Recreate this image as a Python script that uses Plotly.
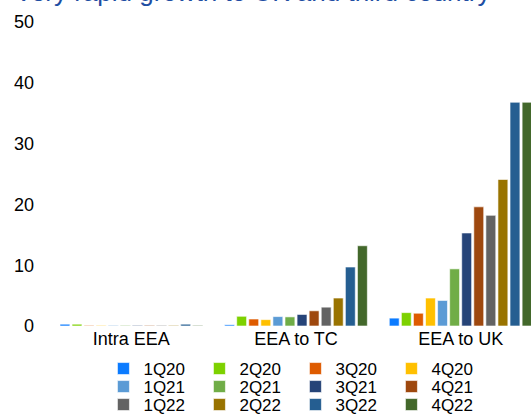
import plotly.graph_objects as go

categories = ["Intra EEA", "EEA to TC", "EEA to UK"]
quarters = ["1Q20", "2Q20", "3Q20", "4Q20",
            "1Q21", "2Q21", "3Q21", "4Q21",
            "1Q22", "2Q22", "3Q22", "4Q22"]
colors = ["#0B7BFF", "#7DD100", "#DE5B00", "#FFC000",
          "#5B9BD5", "#70AD47", "#264478", "#9E480E",
          "#636363", "#997300", "#255E91", "#43682B"]

intra_eea = [0.3, 0.3, 0.1, 0.1, 0.1, 0.1, 0.1, 0.1, 0.1, 0.1, 0.3, 0.1]
eea_to_tc = [0.2, 1.6, 1.15, 1.05, 1.55, 1.5, 1.9, 2.5, 3.1, 4.6, 9.7, 13.2]
eea_to_uk = [1.3, 2.2, 2.1, 4.6, 4.2, 9.4, 15.3, 19.6, 18.2, 24.1, 36.8, 36.8]

title_text = "Very rapid growth to UK and third country"
font_family = "Liberation Sans, Arial, sans-serif"

fig = go.Figure()
legend_names = ["legend", "legend2", "legend3"]
for i, q in enumerate(quarters):
    fig.add_trace(go.Bar(
        name=q,
        x=categories,
        y=[intra_eea[i], eea_to_tc[i], eea_to_uk[i]],
        marker=dict(color=colors[i],
                    line=dict(color="rgba(255,255,255,0.6)", width=1)),
        legend=legend_names[i // 4],
    ))

W, H = 531, 414
ml, mr, mt, mb = 48.5, 0, 22, 88
pw = W - ml - mr
ph = H - mt - mb

def px_to_paper_y(py):
    return (H - mb - py) / ph

def px_to_paper_x(px):
    return (px - ml) / pw

legend_common = dict(
    orientation="h",
    xanchor="left",
    yanchor="middle",
    x=px_to_paper_x(103),
    font=dict(family=font_family, size=17, color="#000000"),
    entrywidth=51,
    entrywidthmode="pixels",
    bgcolor="rgba(0,0,0,0)",
    itemclick=False,
)

fig.update_layout(
    width=W, height=H,
    margin=dict(l=ml, r=mr, t=mt, b=mb, pad=0, autoexpand=False),
    paper_bgcolor="white",
    plot_bgcolor="white",
    barmode="group",
    bargap=0.12,
    bargroupgap=0.18,
    font=dict(family=font_family, color="#000000"),
    showlegend=True,
    hovermode=False,
    legend=dict(legend_common, y=px_to_paper_y(369)),
    legend2=dict(legend_common, y=px_to_paper_y(387)),
    legend3=dict(legend_common, y=px_to_paper_y(405)),
    xaxis=dict(
        range=[-0.5, 2.5 - 12 / 165],
        automargin=False,
        showgrid=False, zeroline=False, showline=False,
        ticks="", tickfont=dict(size=18, color="#000000"),
    ),
    yaxis=dict(
        range=[0, 50],
        automargin=False,
        tickvals=[0, 10, 20, 30, 40, 50],
        showgrid=False, zeroline=False, showline=False,
        ticks="", ticklabelstandoff=14,
        tickfont=dict(size=18, color="#000000"),
    ),
    annotations=[dict(
        text=title_text,
        xref="paper", yref="paper",
        x=px_to_paper_x(12), y=px_to_paper_y(9.2),
        xanchor="left", yanchor="bottom",
        showarrow=False,
        font=dict(family=font_family, size=26, color="#1F4EA3"),
    )],
)

fig.write_html("out.html",
               config={"displayModeBar": False},
               post_script="document.body.style.margin='0';")
